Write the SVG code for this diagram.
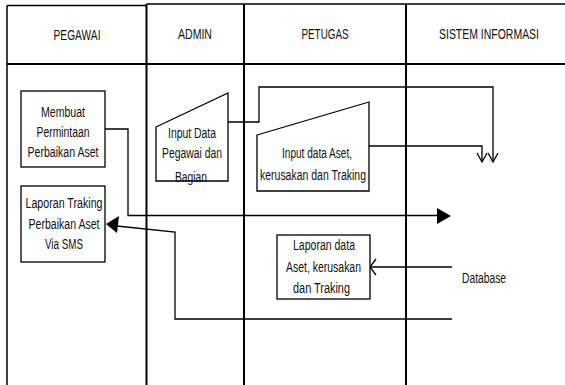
<svg xmlns="http://www.w3.org/2000/svg" width="565" height="385" viewBox="0 0 565 385">
<style>
text{font-family:"Liberation Sans Narrow","Liberation Sans",Arial,sans-serif;font-size:14px;fill:#111;text-anchor:middle}
.lane{stroke:#000;stroke-width:2;fill:none}
.thin{stroke:#000;stroke-width:1.5;fill:none}
.box{fill:#fff;stroke:#000;stroke-width:1.3}
.con{fill:none;stroke:#000;stroke-width:1.3}
.head{fill:#000;stroke:none}
</style>
<g id="lanes">
<rect x="0" y="0" width="565" height="385" fill="#fff"/>
<path class="thin" d="M7,5.5 H146.5 M146.5,4 H565 M7,5.5 V385"/>
<path class="lane" d="M146.5,4 V385 M244,4 V385 M406,4 V385 M7,64 H565"/>
<text x="77" y="40" textLength="47" lengthAdjust="spacingAndGlyphs">PEGAWAI</text>
<text x="195" y="39" textLength="34" lengthAdjust="spacingAndGlyphs">ADMIN</text>
<text x="325" y="39" textLength="47" lengthAdjust="spacingAndGlyphs">PETUGAS</text>
<text x="489" y="39" textLength="100" lengthAdjust="spacingAndGlyphs">SISTEM INFORMASI</text>
</g>
<g id="connectors">
<path class="con" d="M225,122 H259 V87 H493 V161"/>
<path class="con" d="M488,153 L493,162 L498,153"/>
<path class="con" d="M369,146 H482 V161"/>
<path class="con" d="M477,153 L482,162 L487,153"/>
<path class="con" d="M105,129 H128 V215.5 H438"/>
<polygon class="head" points="437,208 451,216 437,224"/>
<path class="con" d="M452,319 H175 V232 L117,226"/>
<polygon class="head" points="106,224 119,216 117,233"/>
<path class="con" d="M452,267 H370"/>
<path class="con" d="M376,259 L370,267 L376,275"/>
</g>
<g id="membuat">
<rect class="box" x="21" y="91" width="84" height="76"/>
<text x="63" y="117" textLength="44" lengthAdjust="spacingAndGlyphs">Membuat</text>
<text x="63" y="137" textLength="53" lengthAdjust="spacingAndGlyphs">Permintaan</text>
<text x="63" y="157" textLength="71" lengthAdjust="spacingAndGlyphs">Perbaikan Aset</text>
</g>
<g id="laporan-traking">
<rect class="box" x="21" y="186" width="84" height="76"/>
<text x="64" y="208" textLength="77" lengthAdjust="spacingAndGlyphs">Laporan Traking</text>
<text x="64" y="229" textLength="71" lengthAdjust="spacingAndGlyphs">Perbaikan Aset</text>
<text x="64" y="249" textLength="38" lengthAdjust="spacingAndGlyphs">Via SMS</text>
</g>
<g id="input-pegawai">
<polygon class="box" points="156,127 228,93 228,181 156,181"/>
<text x="192" y="138" textLength="48" lengthAdjust="spacingAndGlyphs">Input Data</text>
<text x="192" y="158" textLength="60" lengthAdjust="spacingAndGlyphs">Pegawai dan</text>
<text x="191" y="182" textLength="32" lengthAdjust="spacingAndGlyphs">Bagian</text>
</g>
<g id="input-aset">
<polygon class="box" points="257,135 369,102 369,191 257,191"/>
<text x="317" y="158" textLength="70" lengthAdjust="spacingAndGlyphs">Input data Aset,</text>
<text x="313" y="180" textLength="106" lengthAdjust="spacingAndGlyphs">kerusakan dan Traking</text>
</g>
<g id="laporan-data">
<rect class="box" x="277" y="235" width="93" height="64"/>
<text x="324" y="250" textLength="62" lengthAdjust="spacingAndGlyphs">Laporan data</text>
<text x="323.5" y="272" textLength="75" lengthAdjust="spacingAndGlyphs">Aset, kerusakan</text>
<text x="321.5" y="293" textLength="57" lengthAdjust="spacingAndGlyphs">dan Traking</text>
</g>
<g id="database">
<text x="484" y="283" textLength="44" lengthAdjust="spacingAndGlyphs">Database</text>
</g>
</svg>
